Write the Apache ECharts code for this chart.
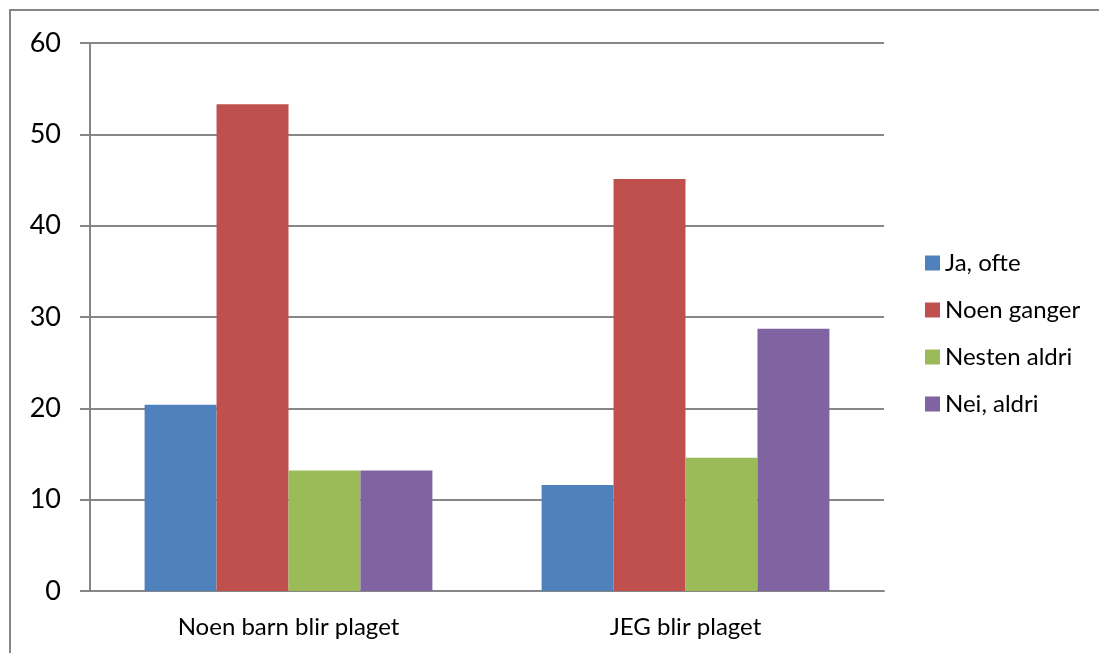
<!DOCTYPE html>
<html>
<head>
<meta charset="utf-8">
<script src="https://cdn.jsdelivr.net/npm/echarts@6/dist/echarts.min.js"></script>
<style>
	html, body { margin: 0; padding: 0; background: #fff; }
	#chart { width: 1099px; height: 653px; }
</style>
</head>
<body>
<div id="chart"></div>
<script>
var categories = [ 'Noen barn blir plaget', 'JEG blir plaget' ];
var seriesNames = [ 'Ja, ofte', 'Noen ganger', 'Nesten aldri', 'Nei, aldri' ];
var jaOfte = [ 20.4, 11.6 ];
var noenGanger = [ 53.3, 45.1 ];
var nestenAldri = [ 13.2, 14.6 ];
var neiAldri = [ 13.2, 28.7 ];
var yTicks = [ 0, 10, 20, 30, 40, 50, 60 ];

var colors = [ '#4F81BD', '#C0504D', '#9BBB59', '#8064A2' ];
var font = 'Lato, "Open Sans", sans-serif';

function genOption() {
	var values = [ jaOfte, noenGanger, nestenAldri, neiAldri ];
	var series = [];
	for (var i = 0; i < seriesNames.length; i++) {
		series.push({
			name : seriesNames[i],
			type : 'bar',
			barGap : 0,
			barCategoryGap : '27.5%',
			itemStyle : { color : colors[i] },
			data : values[i]
		});
	}
	return {
		animation : false,
		color : colors,
		graphic : [ {
			type : 'rect',
			shape : { x : 10, y : 10, width : 1200, height : 800 },
			style : { fill : 'none', stroke : '#868686', lineWidth : 2 },
			silent : true
		} ],
		grid : {
			left : 90,
			right : 215,
			top : 43,
			bottom : 62
		},
		legend : {
			orient : 'vertical',
			left : 920,
			top : 246,
			itemWidth : 15,
			itemHeight : 15,
			itemGap : 23,
			icon : 'rect',
			data : seriesNames,
			textStyle : { fontFamily : font, fontSize : 24, color : '#000', lineHeight : 20 }
		},
		xAxis : {
			type : 'category',
			data : categories,
			axisLine : { lineStyle : { color : '#868686', width : 2 } },
			axisTick : { length : 7, lineStyle : { color : '#868686', width : 2 } },
			axisLabel : { fontFamily : font, fontSize : 24, color : '#000', margin : 24 }
		},
		yAxis : {
			type : 'value',
			min : yTicks[0],
			max : yTicks[yTicks.length - 1],
			interval : yTicks[1] - yTicks[0],
			axisLine : { show : true, lineStyle : { color : '#868686', width : 2 } },
			axisTick : { show : true, inside : false, length : 10, lineStyle : { color : '#868686', width : 2 } },
			axisLabel : { fontFamily : font, fontSize : 27, color : '#000', margin : 29 },
			splitLine : { lineStyle : { color : '#868686', width : 2 } }
		},
		series : series
	};
}

var chart = echarts.init(document.getElementById('chart'));
chart.setOption(genOption(), true);
</script>
</body>
</html>
